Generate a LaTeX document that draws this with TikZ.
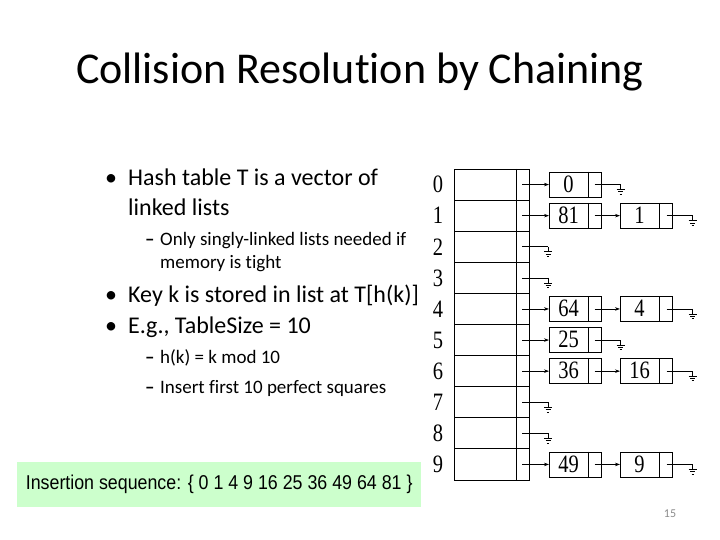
\documentclass[tikz,border=0pt]{standalone}
\usepackage{fontspec}
\setmainfont{Carlito}[RawFeature=-liga]
\newfontfamily\tms{Liberation Serif}
\newfontfamily\arl{Liberation Sans}
\usetikzlibrary{arrows.meta,calc}
\definecolor{seqgreen}{RGB}{204,255,204}
\definecolor{pagegray}{RGB}{140,140,140}
\tikzset{
  txt/.style={anchor=base west, inner sep=0pt, font=\fontsize{24}{28}\selectfont},
  subtxt/.style={anchor=base west, inner sep=0pt, font=\fontsize{19}{22}\selectfont},
  rownum/.style={anchor=center, inner sep=0pt, font=\tms\fontsize{25}{28}\selectfont, xscale=0.82},
  cell/.style={draw, line width=0.9pt, minimum width=75pt, minimum height=31.1pt, inner sep=0pt, anchor=west},
  elem/.style={draw, line width=0.7pt, minimum width=52pt, minimum height=25pt, inner sep=0pt, anchor=west},
  key/.style={anchor=center, inner sep=0pt, font=\tms\fontsize{25}{28}\selectfont, xscale=0.82},
  link/.style={line width=0.7pt, -{Stealth[length=5pt,width=3.5pt]}},
  nil/.style={line width=0.7pt},
}
\newcommand{\gnd}[1]{%
  \draw[nil] (#1) -- ++(0,5) ++(-4,0) -- ++(8,0) ++(-6.5,2.3) -- ++(5,0) ++(-3.7,2.3) -- ++(2.4,0);}
\newcommand{\elemA}[3]{% name, row, key
  \path let \p1=(r#2.west) in node[elem] (#1) at (549,\y1) {};
  \draw[line width=0.7pt] ([xshift=-13.5pt]#1.north east) -- ([xshift=-13.5pt]#1.south east);
  \node[key] at ([xshift=19.5pt,yshift=0.5pt]#1.west) {#3};
  \coordinate (#1p) at ([xshift=-7pt]#1.east);}
\newcommand{\elemB}[3]{%
  \path let \p1=(r#2.west) in node[elem] (#1) at (620,\y1) {};
  \draw[line width=0.7pt] ([xshift=-13pt]#1.north east) -- ([xshift=-13pt]#1.south east);
  \node[key] at ([xshift=19.5pt,yshift=0.5pt]#1.west) {#3};
  \coordinate (#1p) at ([xshift=-6pt]#1.east);}
\begin{document}
\begin{tikzpicture}[x=1pt,y=-1pt]
\path[use as bounding box, fill=white] (0,0) rectangle (720,540);
% title
\node[anchor=base, inner sep=0pt, font=\fontsize{44}{50}\selectfont] (title) at (360,84) {Collision Resolution by Chaining};
% bullets
\node[txt] (b1bul) at (105,186) {•};
\node[txt] (b1a) at (128,186) {Hash table T is a vector of};
\node[txt] (b1b) at (128,215) {linked lists};
\node[subtxt] (s1bul) at (145,245) {\textbf{–}};
\node[subtxt] (s1a) at (160,245) {Only singly-linked lists needed if};
\node[subtxt] (s1b) at (160,268) {memory is tight};
\node[txt] (b2bul) at (105,302) {•};
\node[txt] (b2) at (128,302) {Key k is stored in list at T[h(k)]};
\node[txt] (b3bul) at (105,333) {•};
\node[txt] (b3) at (128,333) {E.g., TableSize = 10};
\node[subtxt] (s2bul) at (145,363) {\textbf{–}};
\node[subtxt] (s2) at (160,363) {h(k) = k mod 10};
\node[subtxt] (s3bul) at (145,393) {\textbf{–}};
\node[subtxt] (s3) at (160,393) {Insert first 10 perfect squares};
% insertion sequence
\node[fill=seqgreen, minimum width=404pt, minimum height=45pt, inner sep=0pt, anchor=north west] (seqbox) at (17,462) {};
\node[inner sep=0pt, anchor=center, font=\arl\fontsize{20}{24}\selectfont, xscale=0.89] (seq) at (seqbox.center) {Insertion sequence: \{ 0 1 4 9 16 25 36 49 64 81 \}};
% page number
\node[inner sep=0pt, text=pagegray, font=\fontsize{12}{14}\selectfont] (pg) at (670,514) {15};
% table
\foreach \i in {0,...,9} {
  \pgfmathsetmacro{\yc}{169+31.1*(\i+0.5)}
  \node[cell] (r\i) at (454,\yc) {};
  \draw[line width=0.9pt] (516.7,{\yc-15.55}) -- (516.7,{\yc+15.55});
  \node[rownum] (n\i) at (438,\yc) {\i};
  \coordinate (p\i) at (522,\yc);
}
% list elements
\elemA{e0}{0}{0}
\elemA{e81}{1}{81}
\elemB{e1}{1}{1}
\elemA{e64}{4}{64}
\elemB{e4}{4}{4}
\elemA{e25}{5}{25}
\elemA{e36}{6}{36}
\elemB{e16}{6}{16}
\elemA{e49}{9}{49}
\elemB{e9}{9}{9}
% links from table
\foreach \r/\e in {0/e0,1/e81,4/e64,5/e25,6/e36,9/e49} {
  \draw[link] (p\r) -- (\e.west);
}
% links between elements
\foreach \a/\b in {e81/e1,e64/e4,e36/e16,e49/e9} {
  \draw[link] (\a p) -- (\b.west);
}
% null pointers from table
\foreach \r in {2,3,7,8} {
  \coordinate (g\r) at ($(p\r)+(26,0)$);
  \draw[nil] (p\r) -- (g\r);
  \gnd{g\r}
}
% null pointers from last elements
\foreach \e in {e0,e25,e1,e4,e16,e9} {
  \coordinate (\e g) at ($(\e p)+(26,0)$);
  \draw[nil] (\e p) -- (\e g);
  \gnd{\e g}
}
\end{tikzpicture}
\end{document}
